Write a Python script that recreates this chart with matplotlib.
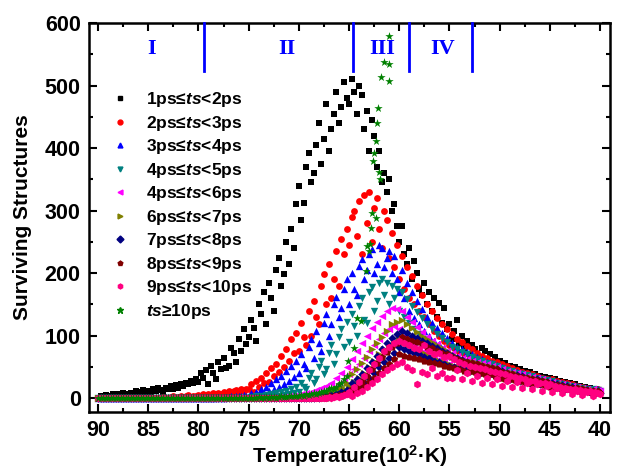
import numpy as np
import matplotlib
matplotlib.use("Agg")
import matplotlib.pyplot as plt
from matplotlib.lines import Line2D

plt.rcParams['font.family'] = ['Liberation Sans', 'DejaVu Sans']
plt.rcParams['font.weight'] = 'bold'
plt.rcParams['mathtext.fontset'] = 'custom'
plt.rcParams['mathtext.it'] = 'Liberation Sans:italic:bold'
plt.rcParams['mathtext.rm'] = 'Liberation Sans:bold'

# --- data: temperature (10^2 K) every 0.25, 90 -> 40 ---
temps = np.arange(90, 39.9, -0.25)

c_1_2 = [1, 3, 2, 5, 4, 2, 6, 4, 7, 3, 8, 6, 5, 9, 7, 11, 6, 10, 13, 9,
         12, 8, 14, 11, 16, 13, 10, 17, 15, 19, 14, 21, 17, 23, 19, 25, 22, 28, 24, 31,
         26, 40, 33, 45, 22, 52, 40, 30, 58, 46, 65, 48, 52, 80, 72, 58, 95, 76, 110, 86,
         98, 125, 112, 92, 150, 135, 170, 118, 185, 160, 140, 205, 225, 180, 198, 250, 215, 270, 240, 310,
         340, 285, 312, 370, 392, 345, 360, 405, 440, 375, 415, 470, 395, 430, 455, 490, 440, 465, 505, 480,
         470, 510, 490, 455, 500, 485, 430, 460, 395, 445, 420, 370, 395, 345, 360, 330, 350, 300, 310, 275,
         250, 275, 230, 215, 240, 190, 220, 200, 175, 165, 185, 150, 170, 140, 160, 130, 152, 120, 145, 110,
         118, 95, 108, 125, 88, 100, 80, 92, 70, 85, 78, 65, 60, 80, 75, 56, 70, 52, 66, 50,
         60, 44, 56, 40, 52, 38, 50, 35, 46, 33, 44, 30, 42, 28, 38, 26, 36, 25, 34, 23,
         32, 22, 30, 20, 28, 18, 26, 16, 24, 15, 22, 13, 20, 12, 18, 11, 16, 10, 15, 9,
         12]
c_2_3 = [0] * 20 + [
         0, 1, 0, 1, 1, 0, 2, 1, 1, 2, 3, 1, 2, 4, 2, 3, 5, 2, 4, 3,
         5, 3, 6, 4, 7, 5, 8, 6, 9, 7, 10, 8, 12, 9, 11, 13, 10, 14, 12, 15,
         15, 22, 10, 28, 18, 32, 24, 40, 26, 48, 36, 55, 42, 68, 50, 78, 60, 95, 72, 105,
         75, 120, 98, 85, 140, 100, 155, 130, 118, 180, 198, 150, 215, 160, 190, 235, 180, 255, 230, 270,
         245, 290, 300, 260, 315, 230, 325, 280, 330, 250, 305, 320, 270, 240, 300, 285, 225, 265, 210, 245,
         190, 228, 175, 210, 160, 195, 150, 180, 140, 165, 130, 150, 118, 140, 108, 128, 100, 118, 92, 110,
         85, 102, 80, 95, 74, 90, 70, 84, 65, 78, 62, 72, 58, 68, 55, 64, 52, 60, 50, 58,
         46, 55, 44, 52, 40, 48, 38, 45, 36, 42, 33, 40, 31, 38, 29, 35, 27, 32, 25, 30,
         24, 30, 22, 28, 20, 26, 18, 24, 16, 22, 15, 20, 13, 18, 12, 16, 11, 15, 10, 14,
         10]
c_3_4 = [0] * 40 + [
         0, 0, 1, 0, 1, 1, 0, 1, 2, 1, 1, 2, 2, 3, 2, 3, 4, 3, 5, 4,
         3, 8, 4, 10, 6, 14, 8, 18, 11, 24, 14, 30, 18, 36, 22, 44, 28, 52, 34, 60,
         40, 70, 55, 48, 82, 95, 65, 108, 88, 75, 120, 135, 100, 118, 150, 162, 130, 145, 175, 190,
         150, 200, 175, 165, 212, 222, 190, 205, 230, 238, 200, 215, 245, 240, 210, 225, 235, 200, 228, 190,
         170, 205, 160, 185, 140, 170, 128, 155, 118, 142, 108, 130, 100, 120, 92, 112, 86, 104, 80, 96,
         72, 88, 68, 82, 64, 78, 60, 74, 56, 70, 53, 66, 50, 62, 48, 58, 46, 56, 44, 53,
         40, 50, 38, 47, 36, 44, 34, 42, 32, 40, 30, 37, 28, 35, 27, 33, 25, 31, 24, 29,
         22, 28, 20, 26, 19, 24, 17, 22, 16, 20, 15, 19, 14, 17, 13, 16, 12, 15, 11, 14,
         12]
c_4_5 = [0] * 60 + [
         0, 2, 0, 3, 1, 4, 2, 5, 2, 6, 3, 8, 4, 10, 5, 12, 6, 15, 8, 18,
         10, 24, 18, 14, 32, 40, 24, 30, 50, 60, 38, 46, 72, 85, 55, 70, 98, 110, 82, 122,
         90, 135, 115, 100, 148, 160, 125, 120, 170, 178, 140, 155, 185, 190, 165, 185, 150, 180, 160, 175,
         140, 170, 130, 158, 120, 148, 110, 138, 102, 128, 95, 118, 88, 110, 82, 102, 78, 96, 72, 90,
         66, 82, 62, 78, 58, 74, 55, 70, 52, 66, 50, 63, 48, 60, 46, 57, 44, 55, 42, 52,
         38, 48, 36, 45, 34, 43, 32, 41, 30, 39, 29, 37, 27, 35, 26, 33, 25, 31, 23, 29,
         21, 27, 20, 25, 18, 23, 17, 21, 16, 20, 14, 18, 13, 17, 12, 15, 11, 14, 10, 13,
         11]
c_5_6 = [0] * 60 + [
         0, 0, 0, 0, 0, 1, 0, 1, 1, 0, 1, 1, 2, 1, 2, 2, 3, 2, 3, 4,
         2, 6, 3, 8, 4, 10, 6, 13, 8, 16, 10, 20, 13, 25, 16, 32, 22, 40, 28, 50,
         38, 62, 46, 75, 55, 88, 65, 100, 75, 112, 85, 122, 95, 132, 105, 140, 110, 145, 115, 142,
         110, 140, 100, 130, 92, 122, 85, 114, 80, 106, 75, 98, 70, 92, 66, 86, 62, 80, 58, 76,
         55, 72, 52, 68, 50, 65, 48, 62, 46, 60, 44, 58, 42, 56, 41, 54, 40, 52, 38, 50,
         36, 46, 34, 44, 32, 42, 31, 40, 29, 38, 28, 36, 26, 34, 25, 32, 24, 30, 22, 28,
         20, 26, 19, 24, 18, 22, 17, 21, 15, 19, 14, 18, 13, 16, 12, 15, 11, 14, 10, 13,
         11]
c_6_7 = [0] * 80 + [
         0, 1, 0, 2, 1, 3, 2, 4, 3, 6, 4, 8, 6, 11, 8, 14, 10, 18, 14, 24,
         20, 38, 26, 46, 32, 56, 40, 66, 50, 78, 60, 88, 70, 98, 78, 108, 85, 118, 92, 122,
         95, 125, 90, 118, 85, 112, 80, 106, 76, 100, 72, 95, 68, 90, 64, 85, 60, 80, 58, 76,
         54, 70, 52, 66, 50, 63, 48, 60, 46, 58, 44, 56, 42, 54, 41, 52, 40, 50, 38, 48,
         35, 44, 33, 42, 31, 40, 30, 38, 28, 36, 27, 34, 26, 33, 25, 31, 23, 29, 22, 27,
         20, 25, 19, 23, 18, 22, 16, 20, 15, 19, 14, 17, 13, 16, 12, 15, 11, 13, 10, 12,
         10]
c_7_8 = [0] * 80 + [
         0, 0, 0, 1, 0, 1, 1, 2, 1, 3, 2, 4, 3, 5, 4, 7, 6, 10, 8, 13,
         12, 24, 16, 30, 20, 38, 26, 48, 32, 58, 40, 68, 50, 78, 58, 88, 65, 96, 72, 102,
         82, 108, 78, 104, 75, 100, 72, 96, 70, 92, 66, 88, 64, 84, 60, 80, 58, 76, 55, 72,
         52, 68, 50, 64, 48, 61, 46, 58, 44, 56, 42, 54, 41, 52, 40, 50, 38, 48, 36, 46,
         34, 43, 32, 41, 30, 39, 29, 37, 27, 35, 26, 33, 25, 31, 24, 30, 22, 28, 21, 26,
         19, 24, 18, 22, 16, 21, 15, 19, 14, 18, 13, 16, 12, 15, 11, 13, 10, 12, 9, 11,
         8]
c_8_9 = [0] * 80 + [
         0, 0, 0, 0, 0, 0, 1, 0, 1, 1, 2, 1, 3, 2, 4, 3, 5, 4, 7, 6,
         8, 14, 10, 20, 14, 28, 20, 36, 26, 46, 32, 56, 40, 66, 48, 74, 55, 82, 62, 88,
         70, 98, 68, 94, 66, 92, 64, 90, 62, 86, 60, 82, 58, 80, 56, 76, 54, 72, 52, 70,
         50, 66, 48, 62, 46, 60, 44, 58, 43, 56, 42, 54, 40, 52, 39, 50, 38, 48, 36, 46,
         33, 42, 31, 40, 30, 38, 29, 36, 27, 34, 26, 33, 25, 31, 24, 29, 23, 28, 21, 26,
         18, 23, 17, 21, 16, 20, 15, 18, 14, 17, 13, 16, 12, 14, 11, 13, 10, 12, 9, 11,
         8]
c_9_10 = [0] * 80 + [
         0, 0, 0, 0, 0, 0, 1, 0, 1, 1, 0, 1, 2, 1, 2, 3, 2, 4, 5, 7,
         10, 4, 18, 8, 26, 12, 35, 18, 45, 24, 55, 30, 65, 38, 75, 45, 82, 50, 88, 55,
         92, 58, 88, 50, 85, 45, 80, 22, 78, 42, 85, 38, 75, 48, 70, 35, 72, 40, 66, 32,
         68, 32, 62, 45, 58, 30, 55, 40, 52, 28, 50, 36, 48, 25, 46, 32, 44, 22, 42, 30,
         40, 20, 38, 28, 36, 18, 34, 26, 32, 16, 30, 24, 28, 14, 27, 22, 25, 12, 24, 20,
         22, 10, 20, 16, 18, 8, 17, 14, 15, 7, 14, 12, 13, 5, 12, 10, 11, 4, 10, 8,
         6]
# ts >= 10ps: flat near zero from 90 to 65.25, then a near-vertical rise around 62
c_10_flat = [0, 1, 0, 0, 1, 0, 0, 1, 0, 0, 1, 0, 1, 0, 0, 1, 0, 0, 1, 0,
             0, 1, 0, 0, 1, 0, 0, 1, 0, 0, 1, 0, 1, 0, 0, 1, 0, 0, 1, 0,
             0, 1, 0, 1, 0, 0, 1, 0, 1, 0, 1, 0, 1, 1, 0, 1, 1, 0, 1, 1,
             1, 0, 1, 1, 2, 1, 1, 2, 1, 2, 2, 1, 2, 3, 2, 2, 3, 3, 4, 3,
             4, 5, 4, 6, 5, 7, 8, 6, 9, 10, 12, 11, 14, 16, 15, 18, 22, 25, 30, 36]
spike_temps = [65.1, 64.5, 64.2, 63.8, 63.3, 63.2, 63.0, 62.9, 62.8, 62.7, 62.3,
               62.6, 62.5, 62.3, 62.2, 62.1, 62.0, 61.9, 61.8, 61.5, 61.0, 61.0, 61.0]
spike_counts = [59, 80, 128, 123, 204, 244, 236, 247, 273, 297, 289,
                380, 392, 411, 440, 464, 361, 350, 514, 538, 508, 534, 580]

labels = ['1ps≤$ts$<2ps', '2ps≤$ts$<3ps', '3ps≤$ts$<4ps', '4ps≤$ts$<5ps',
          '4ps≤$ts$<6ps', '6ps≤$ts$<7ps', '7ps≤$ts$<8ps', '8ps≤$ts$<9ps',
          '9ps≤$ts$<10ps', '$ts$≥10ps']
series = [c_1_2, c_2_3, c_3_4, c_4_5, c_5_6, c_6_7, c_7_8, c_8_9, c_9_10]
colors = ['#000000', '#FF0000', '#0000FF', '#008080', '#FF00FF',
          '#808000', '#000080', '#800000', '#FF0080', '#008000']
markers = ['s', 'o', '^', 'v', '<', '>', 'D', 'p', 'h', '*']
sizes = [18, 24, 28, 28, 28, 28, 18, 30, 30, 40]

region_edges = [79.4, 64.6, 59.0, 52.8]
region_names = ['I', 'II', 'III', 'IV']
region_label_x = [84.7, 71.2, 61.7, 55.7]

fig = plt.figure(figsize=(6.2, 4.7), dpi=100)
ax = fig.add_axes([0.1435, 0.1234, 0.8405, 0.8276])

for vals, c, m, s in zip(series, colors, markers, sizes):
    ax.scatter(temps, vals, s=s, c=c, marker=m, linewidths=0, zorder=2)
ax.scatter(temps[:len(c_10_flat)], c_10_flat, s=sizes[9], c=colors[9],
           marker='*', linewidths=0, zorder=3)
ax.scatter(spike_temps, spike_counts, s=sizes[9], c=colors[9],
           marker='*', linewidths=0, zorder=3)

# region dividers
for x in region_edges:
    ax.plot([x, x], [524, 600], color='#0000FF', lw=2, zorder=4, clip_on=False)
for x, name in zip(region_label_x, region_names):
    ax.text(x, 558, name, color='#0000FF', fontsize=16, fontweight='bold',
            family='Liberation Serif', ha='center', va='center')

ax.set_xlim(90.9, 39.0)
ax.set_ylim(-22, 600)
ax.set_xticks(np.arange(90, 39, -5))
ax.set_xticks(np.arange(90, 39, -2.5), minor=True)
ax.set_yticks(np.arange(0, 601, 100))
ax.set_yticks(np.arange(0, 601, 50), minor=True)
ax.tick_params(which='both', direction='in', top=True, right=True, width=1.5)
ax.tick_params(which='major', length=6, labelsize=15.5)
ax.tick_params(axis='x', pad=6)
ax.tick_params(axis='y', pad=6)
ax.tick_params(which='minor', length=3)
for sp in ax.spines.values():
    sp.set_linewidth(1.8)

ax.set_xlabel('Temperature(10$^2$·K)', fontsize=15, fontweight='bold', labelpad=1)
ax.set_ylabel('Surviving Structures', fontsize=15, fontweight='bold', labelpad=9)

handles = [Line2D([], [], ls='none', marker=m, color=c, markersize=4.5 if m == '*' else 3.5)
           for m, c in zip(markers, colors)]
ax.legend(handles, labels, loc='upper left', bbox_to_anchor=(0.03, 0.845),
          frameon=False, fontsize=12.5, handlelength=1.0, handletextpad=1.0,
          labelspacing=0.26, borderaxespad=0)

fig.savefig('out.png', dpi=100)
